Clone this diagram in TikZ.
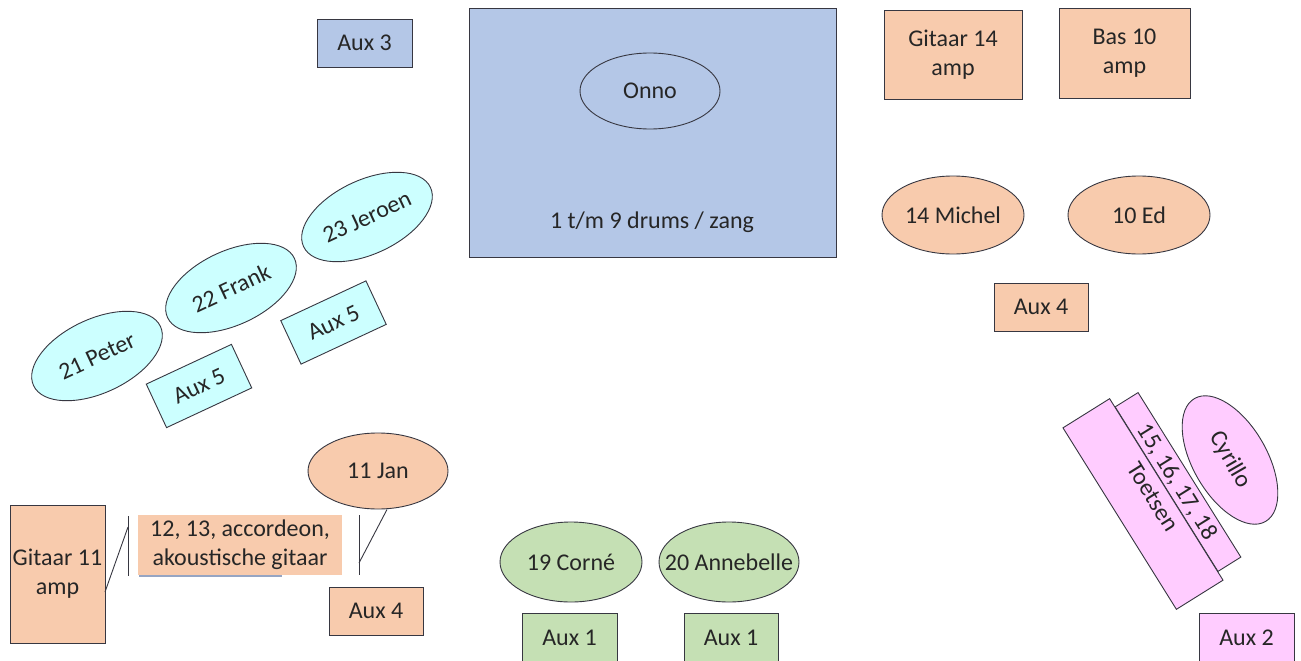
\documentclass[tikz,border=0pt]{standalone}
\usepackage{fontspec}
\setmainfont{Carlito}
\usetikzlibrary{shapes.geometric}
\definecolor{cblue}{RGB}{180,199,231}
\definecolor{cpeach}{RGB}{248,203,173}
\definecolor{cgreen}{RGB}{197,224,180}
\definecolor{ccyan}{RGB}{204,255,255}
\definecolor{cpink}{RGB}{255,204,255}
\definecolor{cline}{RGB}{55,55,65}
\definecolor{culine}{RGB}{150,165,195}
\newcommand{\zw}[1]{\makebox[0pt][c]{#1}}
\tikzset{
  every node/.style={font=\fontsize{24}{29}\selectfont, text=black!85, inner sep=0pt},
  box/.style={draw=cline, line width=0.9pt, rectangle, minimum width=#1},
  box/.default=94pt,
  pers/.style={draw=cline, line width=0.9pt, ellipse, minimum width=140pt, minimum height=76pt},
  conn/.style={draw=cline, line width=0.9pt},
}
\begin{document}
\begin{tikzpicture}[x=1pt,y=-1pt]
\useasboundingbox (0,0) rectangle (1301,661);
% drums
\node[box=367pt, minimum height=249pt, fill=cblue] (drums) at (652.5,132.5) {};
\node[pers, minimum width=140pt, minimum height=76pt] (onno) at (650,91) {\zw{Onno}};
\node (drumlabel) at (652,222) {1 t/m 9 drums / zang};
\node[box=95pt, minimum height=48pt, fill=cblue] (aux3) at (364.5,43) {Aux 3};
% right peach
\node[box=138pt, minimum height=89pt, fill=cpeach, align=center] (g14) at (953,54.5) {Gitaar 14\\amp};
\node[box=131pt, minimum height=90pt, fill=cpeach, align=center] (b10) at (1124.5,53) {Bas 10\\amp};
\node[pers, minimum width=142pt, minimum height=78pt, fill=cpeach] (michel) at (953,215) {\zw{14 Michel}};
\node[pers, minimum width=142pt, minimum height=78pt, fill=cpeach] (ed) at (1139,215) {\zw{10 Ed}};
\node[box, minimum height=48pt, fill=cpeach] (aux4r) at (1041,307) {Aux 4};
% left cyan
\node[pers, minimum width=140pt, minimum height=74pt, fill=ccyan, rotate=25] (peter) at (97,356) {\zw{21 Peter}};
\node[pers, minimum width=140pt, minimum height=74pt, fill=ccyan, rotate=25] (frank) at (231,288) {\zw{22 Frank}};
\node[pers, minimum width=140pt, minimum height=74pt, fill=ccyan, rotate=25] (jeroen) at (367,217) {\zw{23 Jeroen}};
\node[box, minimum height=48pt, fill=ccyan, rotate=25] (aux5a) at (199,386) {Aux 5};
\node[box, minimum height=48pt, fill=ccyan, rotate=25] (aux5b) at (333.5,322.5) {Aux 5};
% bottom-left peach
\node[box=95pt, minimum height=138pt, fill=cpeach, align=center] (g11) at (57.5,574) {Gitaar 11\\amp};
\node[rectangle, minimum width=204pt, minimum height=60pt, fill=cpeach, align=center] (acc) at (240,545) {12, 13, accordeon,\\akoustische gitaar};
\node[pers, minimum width=140pt, minimum height=76pt, fill=cpeach] (jan) at (378,471) {\zw{11 Jan}};
\node[box, minimum height=48pt, fill=cpeach] (aux4l) at (376,611) {Aux 4};
\coordinate (ul1) at (139,576);
\coordinate (ul2) at (282,576);
\draw[culine, line width=1.4pt] (ul1) -- (ul2);
\coordinate (vl1) at (128,516);
\coordinate (vl2) at (128,576);
\coordinate (vl3) at (128,527);
\coordinate (vr1) at (359,515);
\coordinate (vr2) at (359,575);
\coordinate (vr3) at (359,563);
\coordinate (g11e) at (105,592);
\coordinate (jane) at (387,509.5);
\draw[conn] (vl1) -- (vl2);
\draw[conn] (vr1) -- (vr2);
\draw[conn] (g11e) -- (vl3);
\draw[conn] (vr3) -- (jane);
% bottom green
\node[pers, minimum width=142pt, minimum height=80pt, fill=cgreen] (corne) at (571,562) {\zw{19 Corné}};
\node[pers, minimum width=140pt, minimum height=80pt, fill=cgreen] (anne) at (729,562) {\zw{20 Annebelle}};
\node[box=95pt, minimum height=49pt, fill=cgreen] (aux1a) at (569.5,637.5) {Aux 1};
\node[box, minimum height=49pt, fill=cgreen] (aux1b) at (731,637.5) {Aux 1};
% right pink
\node[box=194pt, minimum height=27pt, fill=cpink, rotate=-58] (keys2) at (1178,482) {};
\node[box=214pt, minimum height=55pt, fill=cpink, rotate=-58] (keys) at (1143,504) {};
\node[rotate=-58, align=center] (keyslabel) at (1166,489) {15, 16, 17, 18\\Toetsen};
\node[pers, minimum width=142pt, minimum height=74pt, fill=cpink, rotate=-60] (cyrillo) at (1230,460) {\zw{Cyrillo}};
\node[box=95pt, minimum height=49pt, fill=cpink] (aux2) at (1246.5,637.5) {Aux 2};
\end{tikzpicture}
\end{document}
